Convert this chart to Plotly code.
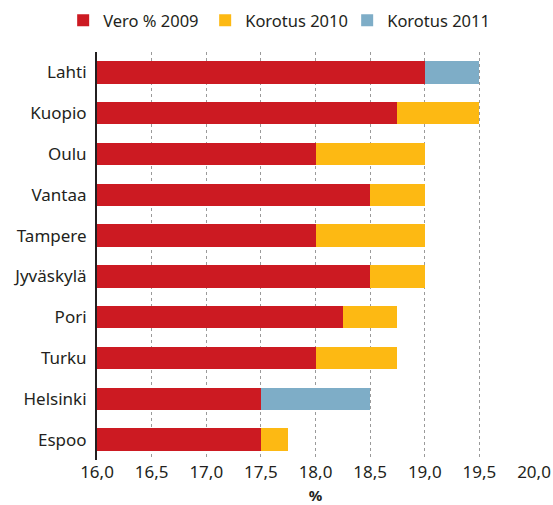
import plotly.graph_objects as go

# Municipal income tax rates: 2009 base and increases for 2010 and 2011
cities = ["Lahti", "Kuopio", "Oulu", "Vantaa", "Tampere",
          "Jyväskylä", "Pori", "Turku", "Helsinki", "Espoo"]
vero_2009 = [19.0, 18.75, 18.0, 18.5, 18.0, 18.5, 18.25, 18.0, 17.5, 17.5]
korotus_2010 = [0.0, 0.75, 1.0, 0.5, 1.0, 0.5, 0.5, 0.75, 0.0, 0.25]
korotus_2011 = [0.5, 0.0, 0.0, 0.0, 0.0, 0.0, 0.0, 0.0, 1.0, 0.0]
tick_vals = [16.0, 16.5, 17.0, 17.5, 18.0, 18.5, 19.0, 19.5, 20.0]

RED = "#cc1a22"
YELLOW = "#fdb913"
BLUE = "#7eadc7"

fig = go.Figure()
fig.add_trace(go.Bar(y=cities, x=vero_2009, orientation="h",
                     name="Vero % 2009", marker=dict(color=RED, line_width=0)))
fig.add_trace(go.Bar(y=cities, x=korotus_2010, orientation="h",
                     name="Korotus 2010", marker=dict(color=YELLOW, line_width=0)))
fig.add_trace(go.Bar(y=cities, x=korotus_2011, orientation="h",
                     name="Korotus 2011", marker=dict(color=BLUE, line_width=0)))

fig.update_layout(
    width=553, height=505,
    margin=dict(l=97, r=19, t=52, b=45, autoexpand=False),
    barmode="stack",
    bargap=0.45,
    separators=", ",
    paper_bgcolor="white",
    plot_bgcolor="white",
    font=dict(family="Noto Sans, Open Sans, sans-serif", size=16, color="#231f20"),
    legend=dict(orientation="h", x=0.41, xanchor="center", y=1.12, yanchor="top",
                font=dict(size=16.5), traceorder="normal",
                itemwidth=30, entrywidth=97, entrywidthmode="pixels"),
    showlegend=True,
)
fig.update_xaxes(
    range=[16, 20], tickvals=tick_vals, tickformat=".1f",
    showgrid=True, gridcolor="#9a9a9a", griddash="dot", gridwidth=1,
    zeroline=False, showline=False, ticks="", automargin=False,
    tickfont=dict(size=17),
    title=dict(text="<b>%</b>", font=dict(size=15), standoff=8),
)
fig.update_yaxes(
    categoryorder="array", categoryarray=cities, autorange="reversed",
    showline=True, linecolor="#231f20", linewidth=2, automargin=False,
    showgrid=False, ticks="", ticklabelstandoff=5,
    tickfont=dict(size=17),
)

fig.write_html("out.html")
